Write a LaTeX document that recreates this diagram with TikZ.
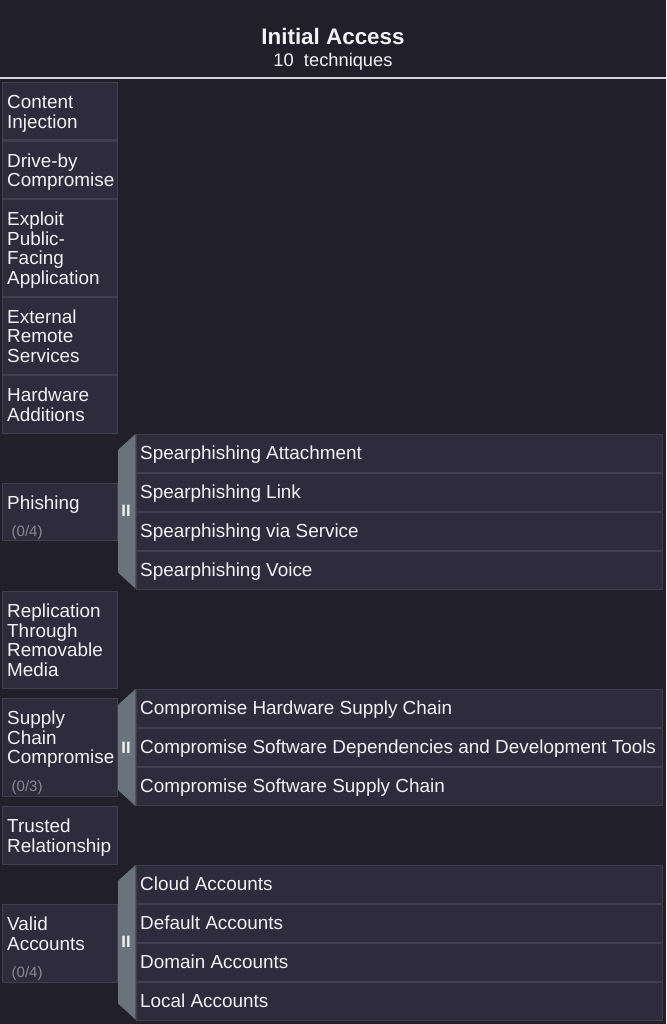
\documentclass[tikz,border=0pt]{standalone}
\usepackage{fontspec}
\setmainfont{Liberation Sans}
\usetikzlibrary{calc}
\definecolor{bgc}{RGB}{33,32,42}
\definecolor{boxc}{RGB}{46,44,60}
\definecolor{bordc}{RGB}{64,63,78}
\definecolor{panelc}{RGB}{106,114,124}
\definecolor{rulec}{RGB}{212,212,218}
\definecolor{txtc}{RGB}{242,242,246}
\definecolor{countc}{RGB}{138,138,148}
\newcommand{\tfs}{\fontsize{18.9}{19.5}\selectfont}
\newcommand{\tst}{\rule{0pt}{14pt}}
\tikzset{
  techbox/.style={draw=bordc, fill=boxc, line width=1.4pt, inner sep=0pt, anchor=north west, minimum width=115pt},
  subbox/.style={draw=bordc, fill=boxc, line width=1.4pt, inner sep=0pt, anchor=north west, minimum width=526pt, minimum height=37.5pt},
  techtext/.style={text=txtc, font=\tfs, align=left, inner sep=0pt, anchor=north west},
  subtext/.style={text=txtc, font=\tfs, inner sep=0pt, anchor=base west},
  counttext/.style={text=countc, font=\fontsize{15}{15}\selectfont, inner sep=0pt, anchor=base west},
  panel/.style={fill=panelc},
  bars/.style={text=txtc, font=\bfseries\fontsize{16.5}{16.5}\selectfont, inner sep=0pt},
  headrule/.style={draw=rulec, line width=1.2pt},
}
\begin{document}
\begin{tikzpicture}[x=1pt,y=-1pt]
\useasboundingbox (0,0) rectangle (666,1024);
\fill[bgc] (0,0) rectangle (666,1024);

% header
\node[text=txtc, font=\bfseries\fontsize{22.4}{24}\selectfont, anchor=base, inner sep=0pt] (title) at (333,45) {Initial Access};
\node[text=txtc, font=\fontsize{18.3}{20}\selectfont, anchor=base, inner sep=0pt] (sub) at (333,66.7) {10\ \ techniques};
\coordinate (rl) at (0,78);
\coordinate (rr) at (666,78);
\draw[headrule] (rl) -- (rr);

% panels (drawn first)
\fill[panel] (118,450) -- (135.5,434) -- (135.5,588.5) -- (118,572.5) -- cycle;
\node[bars] (b1) at (126,511.25) {II};
\fill[panel] (118,705) -- (135.5,689) -- (135.5,806) -- (118,790) -- cycle;
\node[bars] (b2) at (126,747.5) {II};
\fill[panel] (118,881) -- (135.5,865) -- (135.5,1019.5) -- (118,1003.5) -- cycle;
\node[bars] (b3) at (126,942.25) {II};

% technique boxes
\node[techbox, minimum height=57.5pt] (ci) at (2,82) {};
\node[techtext] (cit) at (7,94.5) {\tst Content\\Injection};
\node[techbox, minimum height=57.5pt] (db) at (2,140.5) {};
\node[techtext] (dbt) at (7,153) {\tst Drive-by\\Compromise};
\node[techbox, minimum height=96.5pt] (ex) at (2,199) {};
\node[techtext] (ext) at (7,211.5) {\tst Exploit\\Public-\\Facing\\Application};
\node[techbox, minimum height=77pt] (er) at (2,296.5) {};
\node[techtext] (ert) at (7,309) {\tst External\\Remote\\Services};
\node[techbox, minimum height=57.5pt] (hw) at (2,375) {};
\node[techtext] (hwt) at (7,387.5) {\tst Hardware\\Additions};

\node[techbox, minimum height=57pt] (ph) at (2,483) {};
\node[techtext] (pht) at (7,495.5) {\tst Phishing};
\node[counttext] (phc) at (11.5,536.5) {(0/4)};

\node[techbox, minimum height=96.5pt] (rm) at (2,591) {};
\node[techtext] (rmt) at (7,603.5) {\tst Replication\\Through\\Removable\\Media};

\node[techbox, minimum height=98pt] (sc) at (2,698) {};
\node[techtext] (sct) at (7,710.5) {\tst Supply\\Chain\\Compromise};
\node[counttext] (scc) at (11.5,791.5) {(0/3)};

\node[techbox, minimum height=57.5pt] (tr) at (2,806) {};
\node[techtext] (trt) at (7,818.5) {\tst Trusted\\Relationship};

\node[techbox, minimum height=78pt] (va) at (2,904) {};
\node[techtext] (vat) at (7,916.5) {\tst Valid\\Accounts};
\node[counttext] (vac) at (11.5,977.5) {(0/4)};

% sub-technique boxes: Phishing
\node[subbox] (p1) at (136,434) {};
\node[subtext] (p1t) at (140,459.5) {Spearphishing Attachment};
\node[subbox] (p2) at (136,473) {};
\node[subtext] (p2t) at (140,498.5) {Spearphishing Link};
\node[subbox] (p3) at (136,512) {};
\node[subtext] (p3t) at (140,537.5) {Spearphishing via Service};
\node[subbox] (p4) at (136,551) {};
\node[subtext] (p4t) at (140,576.5) {Spearphishing Voice};

% Supply chain
\node[subbox] (s1) at (136,689) {};
\node[subtext] (s1t) at (140,714.5) {Compromise Hardware Supply Chain};
\node[subbox] (s2) at (136,728) {};
\node[subtext] (s2t) at (140,753.5) {Compromise Software Dependencies and Development Tools};
\node[subbox] (s3) at (136,767) {};
\node[subtext] (s3t) at (140,792.5) {Compromise Software Supply Chain};

% Valid accounts
\node[subbox] (v1) at (136,865) {};
\node[subtext] (v1t) at (140,890.5) {Cloud Accounts};
\node[subbox] (v2) at (136,904) {};
\node[subtext] (v2t) at (140,929.5) {Default Accounts};
\node[subbox] (v3) at (136,943) {};
\node[subtext] (v3t) at (140,968.5) {Domain Accounts};
\node[subbox] (v4) at (136,982) {};
\node[subtext] (v4t) at (140,1007.5) {Local Accounts};
\end{tikzpicture}
\end{document}
